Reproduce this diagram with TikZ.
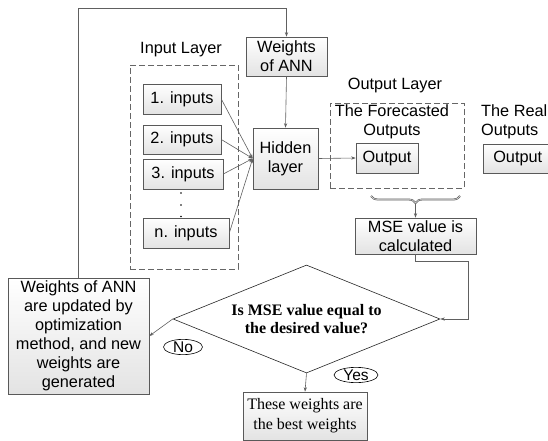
\documentclass[tikz,border=0pt]{standalone}
\usepackage{fontspec}
\setmainfont{Liberation Sans}
\newfontfamily\tnr{Liberation Serif}
\usetikzlibrary{shapes.geometric,arrows.meta,decorations.pathreplacing,shadows,calc}
\begin{document}
\begin{tikzpicture}[x=1pt,y=-1pt,
  lw/.style={draw=gray!75!black, line width=0.6pt},
  arr/.style={lw, -{Stealth[length=4.5pt,width=3.2pt]}},
  boxn/.style={draw=gray!70!black, line width=0.6pt, top color=white, bottom color=gray!22,
    align=center, inner sep=0pt, font=\fontsize{16.3}{19}\selectfont,
    drop shadow={shadow xshift=1pt, shadow yshift=-1pt, fill=gray!45, opacity=0.6}},
  dashbox/.style={draw=gray!80!black, line width=0.8pt, dash pattern=on 6pt off 3pt},
  lbl/.style={inner sep=0pt, align=center, font=\fontsize{16.3}{19}\selectfont},
  oval/.style={ellipse, draw=black, line width=0.6pt, fill=white, inner sep=0pt, font=\fontsize{15.5}{18}\selectfont},
  dotc/.style={fill=black, circle, inner sep=0pt, minimum size=1.8pt}
]
\fill[white] (0,0) rectangle (548,441);
\clip (0,0) rectangle (548,441);

% dashed groups
\node[dashbox, minimum width=108pt, minimum height=204pt, inner sep=0pt] (inbox) at (184,167) {};
\node[dashbox, minimum width=134pt, minimum height=85pt, inner sep=0pt] (outbox) at (397,145.5) {};

\node[lbl] (inlbl) at (181,50) {Input Layer};
\node[lbl] (outlbl) at (395,86) {Output Layer};
\node[lbl] (fclbl) at (392,121.5) {The Forecasted\\Outputs};
\node[lbl, align=left, anchor=west] (reallbl) at (481,121.5) {The Real\\Outputs};

% boxes
\node[boxn, minimum width=81pt, minimum height=39pt] (w1) at (286.5,56.5) {Weights\\of ANN};
\node[boxn, minimum width=78pt, minimum height=30pt] (in1) at (182,99) {1. inputs};
\node[boxn, minimum width=78pt, minimum height=29pt] (in2) at (182,139.5) {2. inputs};
\node[boxn, minimum width=80pt, minimum height=30pt] (in3) at (183,174) {3. inputs};
\node[dotc] (d1) at (181,193) {};
\node[dotc] (d2) at (181,205) {};
\node[dotc] (d3) at (181,216.5) {};
\node[boxn, minimum width=86pt, minimum height=30pt] (inn) at (186,233) {n. inputs};
\node[boxn, minimum width=65pt, minimum height=61pt] (hid) at (285.5,158.5) {Hidden\\layer};
\node[boxn, minimum width=62pt, minimum height=30pt] (out1) at (387,158) {Output};
\node[boxn, minimum width=80pt, minimum height=29pt, anchor=west, text width=70pt, align=left] (out2) at (483,158.5) {\hspace*{5pt}Output};
\node[boxn, minimum width=121pt, minimum height=36pt] (mse) at (415.5,236) {MSE value is\\calculated};
\node[diamond, draw=gray!30!black, line width=0.6pt, fill=white, aspect=2.47, inner sep=0pt,
  minimum width=267pt, minimum height=108pt, align=center,
  font=\tnr\bfseries\fontsize{16}{17.5}\selectfont] (dia) at (306.5,319) {Is MSE value equal to\\the desired value?};
\node[boxn, minimum width=141pt, minimum height=116pt] (upd) at (78.5,336)
  {Weights of ANN\\are updated by\\optimization\\method, and new\\weights are\\generated};
\node[boxn, minimum width=124pt, minimum height=48pt, font=\tnr\fontsize{16}{20}\selectfont] (best) at (305,416)
  {These weights are\\the best weights};
\node[oval, minimum width=39pt, minimum height=14pt] (no) at (183,347) {No};
\node[oval, minimum width=44pt, minimum height=14pt] (yes) at (356,375) {Yes};

% brace
\draw[decorate, decoration={brace, amplitude=7pt, mirror}, draw=gray!70!black, line width=1.8pt] (371,196) -- (460,196);
\draw[decorate, decoration={brace, amplitude=7pt, mirror}, draw=gray!20, line width=0.5pt] (371,196) -- (460,196);
\coordinate (bt) at (415.5,204);

% connectors
\coordinate (top) at (78.5,8);
\coordinate (c1) at (468,261);
\draw[arr] (upd.north) -- (top) -| (w1.north);
\draw[arr] (w1.south) -- (hid.north);
\draw[arr] (in1.east) -- (hid.west);
\draw[arr] (in2.east) -- (hid.west);
\draw[arr] (in3.east) -- (hid.west);
\draw[arr] (inn.east) -- (hid.west);
\draw[arr] (hid.east) -- (out1.west);
\draw[arr] (bt) -- (mse.north);
\draw[lw] (mse.south) |- (c1);
\draw[arr] (c1) |- (dia.east);
\draw[arr] (dia.west) -- (upd.east);
\draw[arr] (dia.south) -- (best.north);
\end{tikzpicture}
\end{document}
